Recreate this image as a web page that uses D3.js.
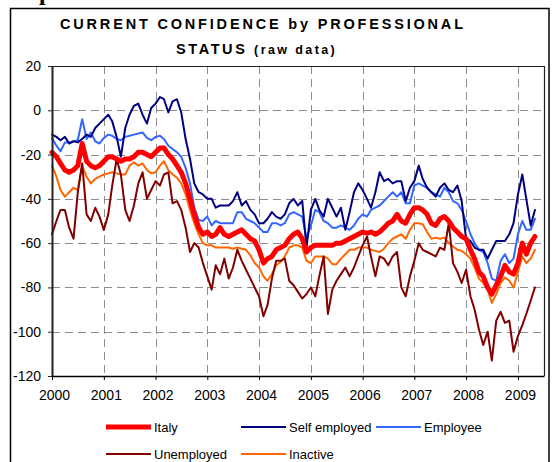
<!DOCTYPE html>
<html>
<head>
<meta charset="utf-8">
<script src="https://cdn.jsdelivr.net/npm/d3@7"></script>
<style>
  html, body { margin: 0; padding: 0; background: #fff; }
  svg { display: block; font-family: "Liberation Sans", Arial, sans-serif; }
</style>
</head>
<body>
<svg id="chart" width="555" height="462"></svg>
<script>
// ---- data (monthly, Jan 2000 .. May 2009) ----
const startMonth = new Date(2000, 0, 1);
const endMonth = new Date(2009, 5, 1); // exclusive
const yearTicks = [2000, 2001, 2002, 2003, 2004, 2005, 2006, 2007, 2008, 2009];
const yTicks = [20, 0, -20, -40, -60, -80, -100, -120];
const seriesNames = ["Italy", "Self employed", "Employee", "Unemployed", "Inactive"];

const italy = [
  -19,-21,-24,-27,-28,-27,-25,-15,-23,-25,-26,-25,
  -23,-21,-21,-22,-23,-22,-22,-21,-19,-19,-20,-21,
  -19,-17,-17,-20,-22,-25,-28,-33,-40,-47,-53,-56,
  -55,-57,-56,-53,-56,-57,-56,-55,-54,-56,-58,-59,
  -63,-69,-67,-66,-63,-62,-61,-58,-56,-55,-58,-64,
  -62,-61,-61,-61,-61,-61,-60,-60,-59,-58,-57,-56,
  -55,-55.5,-55,-56,-55,-53,-51,-50,-47,-50,-51,-47,
  -44,-44,-45,-47,-51,-52,-49,-48,-50,-53,-55,-57,
  -58,-63,-67,-73,-75,-80,-83,-79,-75,-70,-73,-74,
  -69,-60,-65,-60,-57
];
const selfEmployed = [
  -11,-12,-13.5,-12,-15,-14,-14.5,-13,-11,-12,-8,-6,
  -4,-2,-5,-12,-21,-8,-2,2,3,-2,-6,1,
  3,6,5,-1,4,5,-1,-13,-22,-33,-37,-38,
  -40,-40,-44,-43,-43,-43,-41,-37,-43,-41,-45,-47,
  -51,-51,-49,-46,-48,-49,-47,-42,-40,-43,-41,-62,
  -45,-40,-45,-48,-40,-44,-48,-44,-54,-46,-37,-33,
  -36,-40,-44,-37,-28,-32,-31,-33,-32,-32,-41,-35,
  -32,-25,-31,-35,-37,-39,-35,-33,-36,-37,-34,-41,
  -58,-59,-62,-63,-63,-67,-63,-59,-59,-59,-56,-51,
  -38,-29,-40,-52,-45
];
const employee = [
  -12.5,-16,-18.5,-14.5,-14.5,-14,-13.5,-4,-13,-10,-14,-15,
  -12.5,-11,-11.5,-13,-13.5,-12,-11.5,-11,-10.5,-10,-12.5,-13.5,
  -12,-11.5,-13,-16,-17.5,-19,-21,-26,-33,-44,-49.5,-50,
  -48,-52,-50,-51,-51,-51,-51,-46,-46,-49,-50,-51,
  -53,-55,-55,-51,-51,-52,-51,-47,-46,-47,-48,-58,
  -52,-45,-46,-50,-51,-53,-53,-52,-53,-54,-52,-49,
  -47,-48,-45,-44,-43,-41,-39,-37,-39,-37,-42,-42,
  -34,-33,-34,-35,-37,-38,-39,-35,-37,-41,-42,-45,
  -50,-56,-60,-63,-64,-69,-76,-77,-68,-65,-69,-67,
  -56,-50,-54,-54,-49
];
const unemployed = [
  -56,-50,-45,-45,-53,-58,-37,-24,-47,-50,-44,-48,
  -54,-47,-34,-22,-29,-45,-50,-43,-33,-28,-40,-36,
  -32,-34,-29,-28,-42,-41,-45,-53,-64,-60,-62,-69,
  -75,-81,-70,-74,-67,-76,-71,-63,-68,-72,-76,-80,
  -84,-93,-88,-76,-68,-68,-67,-77,-79,-82,-85,-83,
  -80,-84,-75,-66,-92,-81,-77,-74,-71,-75,-71,-66,
  -61,-57,-66,-75,-66,-67,-70,-66,-64,-80,-84,-75,
  -68,-60,-63,-64,-65,-66,-62,-63,-51,-69,-73,-78,
  -72,-84,-90,-99,-106,-100,-113,-95,-91,-96,-95,-109,
  -102,-97,-92,-86,-80
];
const inactive = [
  -25,-30,-36,-39,-37,-35,-36,-25,-30,-33,-31,-30,
  -29,-28.5,-28,-28.5,-29,-29,-25,-23.5,-25,-24,-27,-28.5,
  -28,-25,-23,-27,-29,-30.5,-33,-38,-45,-51,-56,-60,
  -61,-61,-62,-62,-62,-62,-62.5,-62,-62.5,-63,-65.5,-69,
  -71,-75,-77,-74,-70,-68.5,-66,-62,-61,-61,-62,-68,
  -69,-66,-66,-66,-67,-69.5,-69.5,-67,-65,-63,-63,-62,
  -62,-62,-63,-63.5,-64,-62.5,-60,-58,-57,-56,-58,-54,
  -51,-51,-51.5,-55,-58,-57.5,-58,-57.5,-60,-61.5,-63,-63.5,
  -65,-67,-71,-76,-78,-81,-87,-83,-78,-75.5,-77,-80,
  -73,-66,-69,-67,-63
];

// ---- chart ----
const months = d3.timeMonth.range(startMonth, endMonth);
const svg = d3.select("#chart");

const plot = { left: 52, right: 544, top: 66, bottom: 376 };
const x = d3.scaleTime()
  .domain([new Date(2000, 0, 1), new Date(2009, 6, 4)])
  .range([plot.left, plot.right]);
const y = d3.scaleLinear().domain([-120, 20]).range([plot.bottom, plot.top]);

// outer frame
svg.append("rect")
  .attr("x", 10.5).attr("y", 8.5).attr("width", 538.5).attr("height", 470)
  .attr("fill", "none").attr("stroke", "#000").attr("stroke-width", 1.5);

// cut-off header glyph at very top (as in the reference)
svg.append("text")
  .attr("x", 39).attr("y", 0)
  .attr("font-family", "'Liberation Serif', 'Times New Roman', serif")
  .attr("font-weight", "bold").attr("font-size", 24)
  .text("p");

// title
svg.append("text")
  .attr("x", 60).attr("y", 29)
  .attr("font-weight", "bold").attr("font-size", 14.5)
  .attr("textLength", 403).attr("lengthAdjust", "spacing")
  .text("CURRENT CONFIDENCE by PROFESSIONAL");
const t2 = svg.append("text")
  .attr("x", 176).attr("y", 54)
  .attr("font-weight", "bold");
t2.append("tspan").attr("font-size", 14.5).attr("letter-spacing", 2.6).text("STATUS ");
t2.append("tspan").attr("font-size", 12.5).attr("letter-spacing", 2.4).text("(raw data)");

// gridlines
const grid = svg.append("g").attr("stroke", "#8c8c8c").attr("stroke-width", 1)
  .attr("stroke-dasharray", "8,5");
grid.selectAll("line.h").data(yTicks.filter(d => d > -120 && d < 20)).enter()
  .append("line").attr("class", "h")
  .attr("x1", plot.left).attr("x2", plot.right)
  .attr("y1", d => Math.round(y(d)) + 0.5).attr("y2", d => Math.round(y(d)) + 0.5);
grid.selectAll("line.v").data(yearTicks.filter(d => d > 2000)).enter()
  .append("line").attr("class", "v")
  .attr("x1", d => Math.round(x(new Date(d, 0, 1))) + 0.5)
  .attr("x2", d => Math.round(x(new Date(d, 0, 1))) + 0.5)
  .attr("y1", plot.top).attr("y2", plot.bottom);

// plot top & right border
svg.append("path")
  .attr("d", `M${plot.left},${plot.top + 0.5}H${plot.right + 0.5}V${plot.bottom}`)
  .attr("fill", "none").attr("stroke", "#222").attr("stroke-width", 1.2);

// series lines
const line = d3.line()
  .x((d, i) => x(months[i]))
  .y(d => y(d));
const series = [
  { name: "Italy", values: italy, color: "#ff0000", width: 5 },
  { name: "Self employed", values: selfEmployed, color: "#000080", width: 2 },
  { name: "Employee", values: employee, color: "#3366ff", width: 2 },
  { name: "Unemployed", values: unemployed, color: "#800000", width: 2 },
  { name: "Inactive", values: inactive, color: "#ff6600", width: 2 }
];
const drawOrder = [4, 3, 2, 1, 0];
drawOrder.forEach(i => {
  const s = series[i];
  svg.append("path")
    .datum(s.values)
    .attr("d", line)
    .attr("fill", "none")
    .attr("stroke", s.color)
    .attr("stroke-width", s.width)
    .attr("stroke-linejoin", "round")
    .attr("stroke-linecap", "round");
});

// axes
const yAxis = d3.axisLeft(y).tickValues(yTicks).tickSize(4).tickSizeOuter(0)
  .tickPadding(7).tickFormat(d => String(d));
const gy = svg.append("g").attr("transform", `translate(${plot.left},0)`).call(yAxis);
gy.select(".domain").attr("stroke", "#222").attr("stroke-width", 2);
gy.selectAll(".tick line").attr("stroke", "#222");
gy.selectAll("text").attr("font-size", 14).attr("fill", "#000")
  .attr("font-family", "'Liberation Sans', Arial, sans-serif");

const xAxis = d3.axisBottom(x)
  .tickValues(yearTicks.map(d => new Date(d, 0, 1)))
  .tickSize(4).tickSizeOuter(0).tickPadding(10)
  .tickFormat(d3.timeFormat("%Y"));
const gx = svg.append("g").attr("transform", `translate(0,${plot.bottom})`).call(xAxis);
gx.select(".domain").attr("stroke", "#000").attr("stroke-width", 1.5);
gx.selectAll(".tick line").attr("stroke", "#000");
gx.selectAll("text").attr("font-size", 14).attr("fill", "#000")
  .attr("font-family", "'Liberation Sans', Arial, sans-serif")
  .attr("dx", 2);

// legend
const legendPos = [
  { x: 106, y: 427 }, { x: 241, y: 427 }, { x: 376, y: 427 },
  { x: 106, y: 454 }, { x: 241, y: 454 }
];
const lg = svg.append("g");
series.forEach((s, i) => {
  const p = legendPos[i];
  lg.append("line")
    .attr("x1", p.x).attr("x2", p.x + 45)
    .attr("y1", p.y).attr("y2", p.y)
    .attr("stroke", s.color).attr("stroke-width", s.width);
  lg.append("text")
    .attr("x", p.x + 48).attr("y", p.y + 4.5)
    .attr("font-size", 13).attr("fill", "#000")
    .text(s.name);
});
</script>
</body>
</html>
